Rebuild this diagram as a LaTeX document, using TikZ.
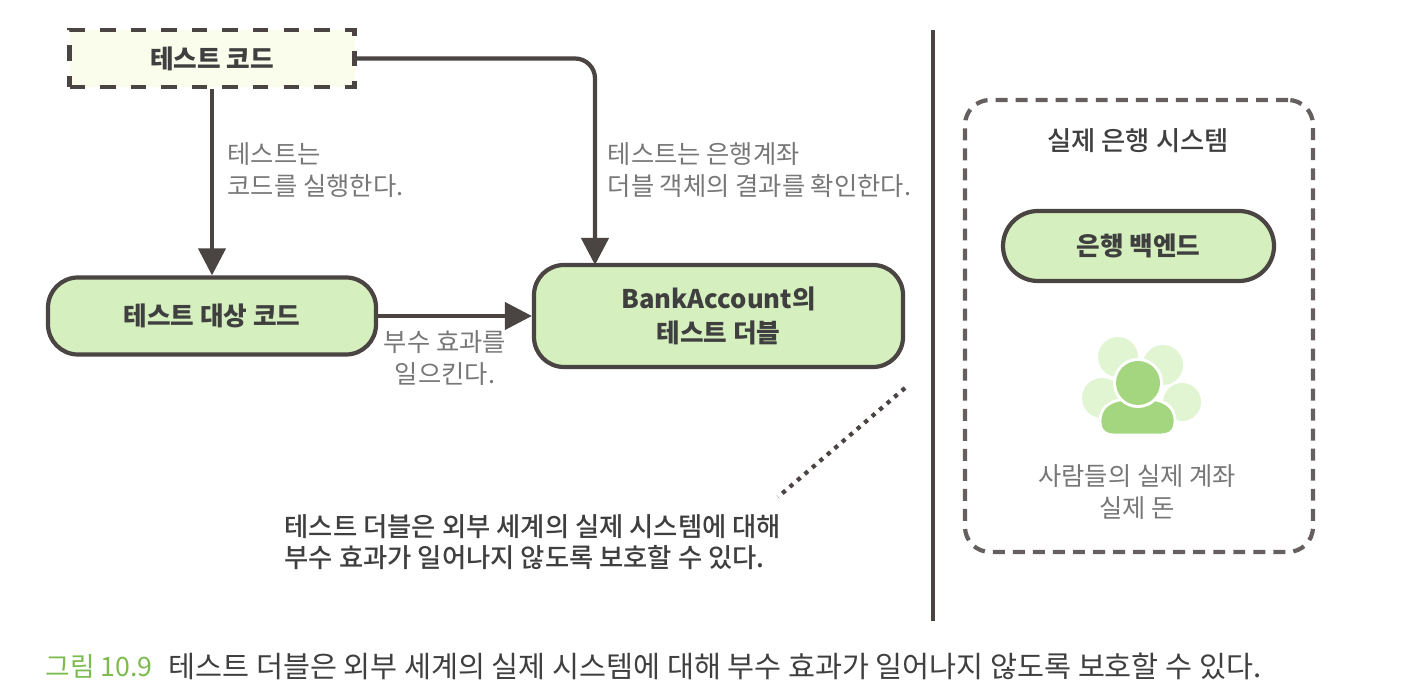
\documentclass[tikz,border=0pt]{standalone}
\usepackage{fontspec}
\setmainfont{Noto Sans CJK KR}
\newfontfamily\medfont{Noto Sans CJK KR Medium}
\usetikzlibrary{arrows.meta}
\definecolor{cln}{HTML}{4A4443}
\definecolor{clt}{HTML}{777777}
\definecolor{cld}{HTML}{3F3F3F}
\definecolor{clb}{HTML}{D5F0BE}
\definecolor{cly}{HTML}{FAFCEC}
\definecolor{clp}{HTML}{E2F5D3}
\definecolor{clh}{HTML}{A3D67E}
\definecolor{clc}{HTML}{7DBB4E}
\tikzset{>={Triangle[length=.27cm, width=.27cm]}}
\tikzset{
    solidbox/.style={draw=cln, line width=1.2pt, fill=clb, align=center, text=cld, inner sep=0pt,
        font=\fontsize{7.3pt}{9.8pt}\selectfont\bfseries},
    dashbox/.style={draw=cln, line width=1.2pt, inner sep=0pt},
    flow/.style={draw=cln, line width=1.2pt, ->},
    lbl/.style={text=clt, inner sep=0pt, font=\fontsize{7.2pt}{9.3pt}\selectfont},
    note/.style={text=cld, inner sep=0pt, align=left, font=\fontsize{7.5pt}{9pt}\medfont}
}

\begin{document}
\begin{tikzpicture}
    \useasboundingbox(0, 0) rectangle (14.04, 6.99);
    \node[dashbox, dash pattern=on 4.4pt off 4.3pt, fill=cly, text=cld, minimum width=2.85cm, minimum height=.57cm,
        font=\fontsize{7.3pt}{9.8pt}\selectfont\bfseries](code) at(2.12, 6.405){테스트 코드};
    \node[solidbox, rounded corners=.3cm, minimum width=3.28cm, minimum height=.77cm](sut) at(2.12, 3.83){테스트 대상 코드};
    \node[solidbox, rounded corners=.3cm, minimum width=3.69cm, minimum height=1.02cm](dbl) at(7.185, 3.83){BankAccount의\\테스트 더블};
    \coordinate(dbltop) at(5.95, 4.34);
    \draw[flow](code.south)--(sut.north);
    \draw[flow, rounded corners=.2cm](code.east)-|(dbltop);
    \draw[flow](sut.east)--(dbl.west);
    \node[lbl, align=left, anchor=west](runlbl) at(2.27, 5.29){테스트는\\코드를 실행한다.};
    \node[lbl, align=left, anchor=west](checklbl) at(6.07, 5.29){테스트는 은행계좌\\더블 객체의 결과를 확인한다.};
    \node[lbl, align=center](sidelbl) at(4.45, 3.41){부수 효과를\\일으킨다.};
    % note under the double
    \coordinate(dotsa) at(9.05, 3.11);
    \coordinate(dotsb) at(7.78, 2.02);
    \draw[cln, line width=1.2pt, dash pattern=on 1.2pt off 1.6pt](dotsa)--(dotsb);
    \node[note, anchor=west](notetxt) at(2.84, 1.57){테스트 더블은 외부 세계의 실제 시스템에 대해\\부수 효과가 일어나지 않도록 보호할 수 있다.};
    % divider
    \coordinate(diva) at(9.33, 6.69);
    \coordinate(divb) at(9.33, .78);
    \draw[cln, line width=1.2pt](diva)--(divb);
    % real system
    \node[dashbox, draw=cln!85, dash pattern=on 3.4pt off 2.3pt, rounded corners=.25cm, minimum width=3.48cm, minimum height=4.52cm](real) at(11.39, 3.73){};
    \node[note, align=center](realttl) at(11.38, 5.58){실제 은행 시스템};
    \node[solidbox, rounded corners=.35cm, minimum width=2.71cm, minimum height=.7cm](bknd) at(11.385, 4.53){은행 백엔드};
    \fill[clp](11.18, 3.42)circle(.2);
    \fill[clp](11.63, 3.34)circle(.2);
    \fill[clp](11.02, 3.01)circle(.2);
    \fill[clp](11.82, 2.97)circle(.19);
    \draw[white, line width=.8pt, fill=clh](11, 2.78)..controls(11, 2.95)and(11.15, 3)..(11.3, 3)--(11.46, 3)
        ..controls(11.6, 3)and(11.75, 2.95)..(11.75, 2.78)..controls(11.75, 2.68)and(11.7, 2.64)..(11.6, 2.64)
        --(11.15, 2.64)..controls(11.05, 2.64)and(11, 2.68)..(11, 2.78);
    \fill[white](11.38, 3.16)circle(.25);
    \fill[clh](11.38, 3.16)circle(.22);
    \node[lbl, align=center](peoplelbl) at(11.37, 2.07){사람들의 실제 계좌\\실제 돈};
    % caption
    \node[text=clc, inner sep=0pt, anchor=west, font=\fontsize{7.6pt}{9pt}\selectfont](capnum) at(.45, .33){그림 10.9};
    \node[text=cld, inner sep=0pt, anchor=west, font=\fontsize{8.35pt}{10pt}\selectfont](captxt) at(1.68, .33){테스트 더블은 외부 세계의 실제 시스템에 대해 부수 효과가 일어나지 않도록 보호할 수 있다.};
\end{tikzpicture}
\end{document}
